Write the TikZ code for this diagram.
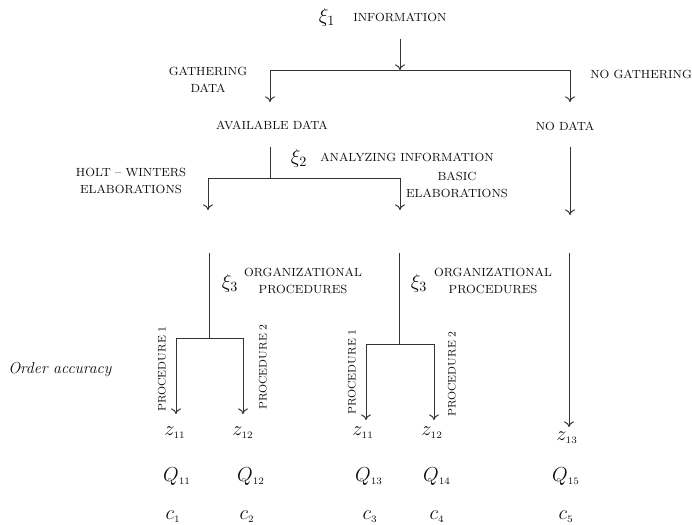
\documentclass[tikz,border=0pt]{standalone}
\usepackage{amssymb,amsmath}
\usepackage{tikz}
\usetikzlibrary{arrows.meta}
\colorlet{linegrey}{black!80}
\colorlet{textgrey}{black!95}

\begin{document}
\begin{tikzpicture}[x=0.025cm,y=-0.025cm,
    caps/.style={font=\fontsize{8.4}{10}\selectfont,text=textgrey,align=center,inner sep=0pt},
    proc/.style={font=\fontsize{7.8}{9}\selectfont,text=textgrey,rotate=90,inner sep=0pt},
    var/.style={font=\Large,text=textgrey,inner sep=0pt},
    branch/.style={draw=linegrey,line width=0.7pt},
    arr/.style={branch,-{To[length=4pt,width=7pt]}}]
      \useasboundingbox (0,0) rectangle (692,525);

      \node[var] (xi1) at (327,17) {$\xi_1$};
      \node[caps,anchor=west] (info) at (353,17) {INFORMATION};
      \coordinate (a0) at (400,39);
      \coordinate (a1) at (400,70);
      \coordinate (a2) at (270,102);
      \coordinate (a3) at (570,102);
      \draw[arr] (a0) -- (a1);
      \draw[arr] (a1) -| (a2);
      \draw[arr] (a1) -| (a3);
      \node[caps] (gather) at (208,80) {GATHERING\\[2pt]DATA};
      \node[caps,anchor=west] (nogather) at (590,74) {NO GATHERING};

      \node[caps] (avail) at (272,125) {AVAILABLE DATA};
      \node[caps] (nodata) at (565,126) {NO DATA};

      \coordinate (b0) at (270,147);
      \coordinate (b1) at (270,178);
      \coordinate (b2) at (208,210);
      \coordinate (b3) at (400,210);
      \draw[branch] (b0) -- (b1);
      \draw[arr] (b1) -| (b2);
      \draw[arr] (b1) -| (b3);
      \node[var] (xi2) at (299,158) {$\xi_2$};
      \node[caps,anchor=west] (analyze) at (320,157) {ANALYZING INFORMATION};
      \node[caps] (holt) at (131,181) {HOLT -- WINTERS\\[2pt]ELABORATIONS};
      \node[caps] (basic) at (457,185) {BASIC\\[2pt]ELABORATIONS};
      \coordinate (b4) at (570,147);
      \coordinate (b5) at (570,215);
      \draw[arr] (b4) -- (b5);

      \coordinate (c0) at (209,253);
      \coordinate (c1) at (209,338);
      \coordinate (c2) at (176,414);
      \coordinate (c3) at (243,414);
      \draw[branch] (c0) -- (c1);
      \draw[arr] (c1) -| (c2);
      \draw[arr] (c1) -| (c3);
      \node[var] (xi3a) at (230,283) {$\xi_3$};
      \node[caps] (orga) at (303,281) {ORGANIZATIONAL\\[2pt]PROCEDURES};
      \node[proc] (proc1a) at (162,369) {PROCEDURE 1};
      \node[proc] (proc2a) at (263,367) {PROCEDURE 2};

      \coordinate (d0) at (399,253);
      \coordinate (d1) at (399,344);
      \coordinate (d2) at (366,420);
      \coordinate (d3) at (434,420);
      \draw[branch] (d0) -- (d1);
      \draw[arr] (d1) -| (d2);
      \draw[arr] (d1) -| (d3);
      \node[var] (xi3b) at (419,283) {$\xi_3$};
      \node[caps] (orgb) at (493,281) {ORGANIZATIONAL\\[2pt]PROCEDURES};
      \node[proc] (proc1b) at (352,372) {PROCEDURE 1};
      \node[proc] (proc2b) at (452,374) {PROCEDURE 2};

      \coordinate (e0) at (569,253);
      \coordinate (e1) at (569,427);
      \draw[arr] (e0) -- (e1);

      \node[font=\fontsize{11.3}{13}\selectfont\itshape,text=textgrey,anchor=west,inner sep=0pt] (accuracy) at (8,370) {Order accuracy};

      \node[var] (z1) at (175,433) {$z_{\scriptscriptstyle 11}$};
      \node[var] (z2) at (243,433) {$z_{\scriptscriptstyle 12}$};
      \node[var] (z3) at (363,433) {$z_{\scriptscriptstyle 11}$};
      \node[var] (z4) at (432,433) {$z_{\scriptscriptstyle 12}$};
      \node[var] (z5) at (567,438) {$z_{\scriptscriptstyle 13}$};

      \node[var] (q1) at (177,477) {$Q_{\scriptscriptstyle 11}$};
      \node[var] (q2) at (251,477) {$Q_{\scriptscriptstyle 12}$};
      \node[var] (q3) at (369,477) {$Q_{\scriptscriptstyle 13}$};
      \node[var] (q4) at (437,477) {$Q_{\scriptscriptstyle 14}$};
      \node[var] (q5) at (566,477) {$Q_{\scriptscriptstyle 15}$};

      \node[var] (k1) at (173,517) {$c_{\scriptscriptstyle 1}$};
      \node[var] (k2) at (247,517) {$c_{\scriptscriptstyle 2}$};
      \node[var] (k3) at (370,517) {$c_{\scriptscriptstyle 3}$};
      \node[var] (k4) at (437,517) {$c_{\scriptscriptstyle 4}$};
      \node[var] (k5) at (566,517) {$c_{\scriptscriptstyle 5}$};
    \end{tikzpicture}
\end{document}
